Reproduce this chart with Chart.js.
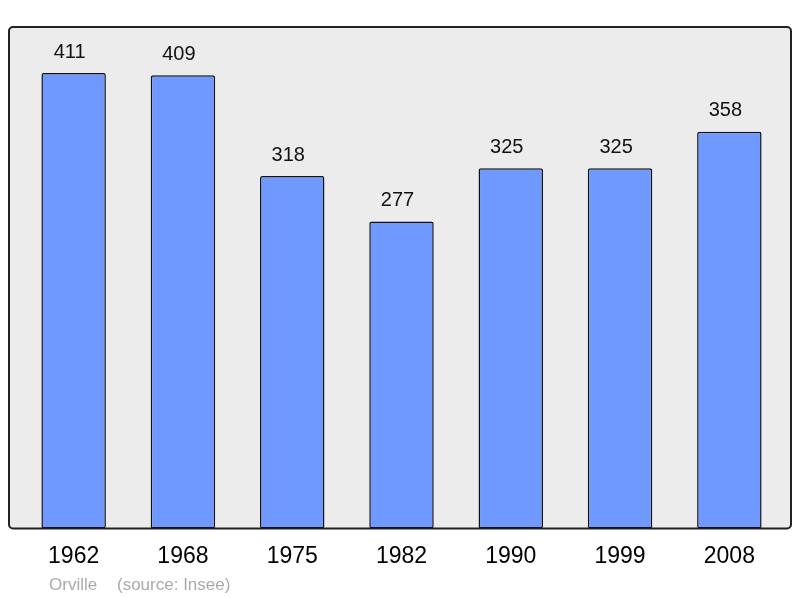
<!DOCTYPE html>
<html>
<head>
<meta charset="utf-8">
<title>Orville - population</title>
<script src="https://cdn.jsdelivr.net/npm/chart.js@4/dist/chart.umd.min.js"></script>
<style>
    body { margin: 0; background: #fff; }
    #wrap { width: 800px; height: 598px; position: relative; }
</style>
</head>
<body>
<div id="wrap"><canvas id="popChart"></canvas></div>
<script>
// Population data (source: Insee)
const years = ['1962', '1968', '1975', '1982', '1990', '1999', '2008'];
const population = [411, 409, 318, 277, 325, 325, 358];
const townName = 'Orville';
const sourceNote = '(source: Insee)';

// Plot frame + background, drawn behind the bars
const framePlugin = {
    id: 'frame',
    beforeDatasetsDraw(chart) {
        const ctx = chart.ctx;
        const a = chart.chartArea;
        const x = a.left - 10, y = a.top, w = a.right - a.left + 17, h = a.bottom - a.top;
        ctx.save();
        ctx.beginPath();
        ctx.roundRect(x, y, w, h, 4);
        ctx.fillStyle = '#ececec';
        ctx.fill();
        ctx.lineWidth = 2;
        ctx.strokeStyle = '#222';
        ctx.stroke();
        ctx.restore();
    }
};

// Value labels above bars + footer text
const labelPlugin = {
    id: 'valueLabels',
    afterDatasetsDraw(chart) {
        const ctx = chart.ctx;
        const meta = chart.getDatasetMeta(0);
        ctx.save();
        ctx.font = '20px "Liberation Sans", Arial, sans-serif';
        ctx.fillStyle = '#111';
        ctx.textAlign = 'center';
        ctx.textBaseline = 'middle';
        meta.data.forEach((bar, i) => {
            // labels sit slightly left of bar centre in the original
            ctx.fillText(String(population[i]), bar.x - 4, bar.y - 21);
        });

        ctx.font = '17px "Liberation Sans", Arial, sans-serif';
        ctx.fillStyle = '#aaa';
        ctx.textAlign = 'left';
        ctx.fillText(townName, 49, 585);
        ctx.fillText(sourceNote, 117, 585);
        ctx.restore();
    }
};

const ctx = document.getElementById('popChart');
new Chart(ctx, {
    type: 'bar',
    data: {
        labels: years,
        datasets: [{
            data: population,
            backgroundColor: '#7099ff',
            borderColor: '#111',
            borderWidth: 1.5,
            borderRadius: 2,
            borderSkipped: false,
            categoryPercentage: 1,
            barPercentage: 0.59
        }]
    },
    options: {
        responsive: true,
        maintainAspectRatio: false,
        animation: false,
        layout: {
            padding: { left: 19, right: 16, top: 27, bottom: 14 }
        },
        plugins: {
            legend: { display: false },
            tooltip: { enabled: false }
        },
        scales: {
            x: {
                grid: { display: false, drawTicks: false },
                border: { display: false },
                ticks: {
                    color: '#000',
                    padding: 14,
                    font: { size: 23, family: '"Liberation Sans", Arial, sans-serif' }
                }
            },
            y: {
                display: false,
                min: 0,
                max: 452.5
            }
        }
    },
    plugins: [framePlugin, labelPlugin]
});
</script>
</body>
</html>
